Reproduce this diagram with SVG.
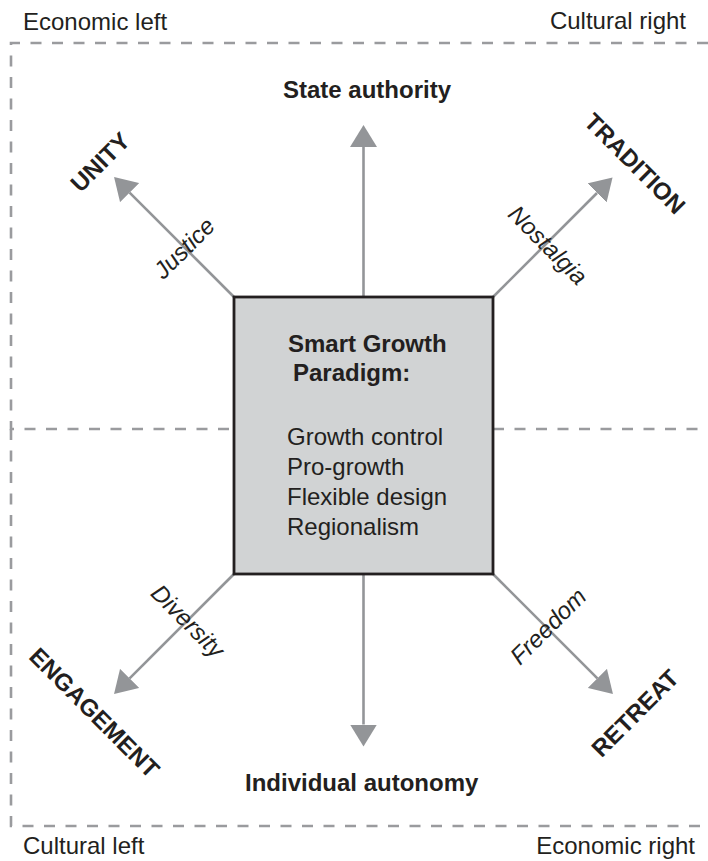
<svg xmlns="http://www.w3.org/2000/svg" width="708" height="861" viewBox="0 0 708 861">
  <style>
    .frame { fill: none; stroke: #9a9b9e; stroke-width: 2.6; stroke-dasharray: 11 10.5; }
    .axis { fill: none; stroke: #939598; stroke-width: 2.6; }
    .head { fill: #939598; }
    .box { fill: #d1d3d4; stroke: #231f20; stroke-width: 2.8; }
    text { font-family: "Liberation Sans", Arial, sans-serif; font-size: 24px; fill: #231f20; }
    .b { font-weight: bold; }
    .it { font-style: italic; }
    .mid { text-anchor: middle; }
    .end { text-anchor: end; }
  </style>
  <defs>
    <marker id="arrow" markerUnits="userSpaceOnUse" viewBox="0 0 22 27" refX="0" refY="13.5" markerWidth="22" markerHeight="27" orient="auto">
      <path class="head" d="M0,0 L22,13.5 L0,27 Z"/>
    </marker>
  </defs>

  <rect width="708" height="861" fill="#ffffff"/>

  <!-- dashed quadrant frame -->
  <g id="frame">
    <path class="frame" d="M708,43 H11 V429 H234"/>
    <path class="frame" d="M11,429 V826 H708"/>
    <path class="frame" d="M493,429 H708"/>
  </g>

  <!-- corner captions -->
  <g id="captions">
    <text x="23" y="30">Economic left</text>
    <text class="end" x="686" y="29">Cultural right</text>
    <text x="23" y="854">Cultural left</text>
    <text class="end" x="695" y="854">Economic right</text>
  </g>

  <!-- connectors radiating from the central box -->
  <g id="connectors">
    <line class="axis" x1="363.5" y1="297" x2="363.5" y2="147" marker-end="url(#arrow)"/>
    <line class="axis" x1="363.5" y1="574" x2="363.5" y2="724.5" marker-end="url(#arrow)"/>
    <line class="axis" x1="234" y1="297" x2="129.6" y2="192.6" marker-end="url(#arrow)"/>
    <line class="axis" x1="493" y1="297" x2="597" y2="193" marker-end="url(#arrow)"/>
    <line class="axis" x1="234" y1="574" x2="129.6" y2="678.4" marker-end="url(#arrow)"/>
    <line class="axis" x1="493" y1="574" x2="597.4" y2="678.4" marker-end="url(#arrow)"/>
  </g>

  <!-- connector labels -->
  <g id="edge-labels">
    <text class="it mid" transform="translate(185,249) rotate(-45)" y="7">Justice</text>
    <text class="it mid" transform="translate(547,246) rotate(45)" y="7">Nostalgia</text>
    <text class="it mid" transform="translate(187,622) rotate(45)" y="7">Diversity</text>
    <text class="it mid" transform="translate(549,627) rotate(-45)" y="7">Freedom</text>
  </g>

  <g id="center">
    <rect class="box" x="234" y="297" width="259" height="277"/>
    <text class="b" x="288" y="352">Smart Growth</text>
    <text class="b" x="293" y="381">Paradigm:</text>
    <text x="287" y="445">Growth control</text>
    <text x="287" y="475">Pro-growth</text>
    <text x="287" y="505">Flexible design</text>
    <text x="287" y="535">Regionalism</text>
  </g>

  <g id="state-authority">
    <text class="b" x="283" y="98">State authority</text>
  </g>
  <g id="individual-autonomy">
    <text class="b" x="245" y="791">Individual autonomy</text>
  </g>
  <g id="unity">
    <text class="b mid" transform="translate(100,162) rotate(-45)" y="8.5">UNITY</text>
  </g>
  <g id="tradition">
    <text class="b mid" transform="translate(635,163.5) rotate(45)" y="8.5">TRADITION</text>
  </g>
  <g id="engagement">
    <text class="b mid" transform="translate(94.5,712.5) rotate(45)" y="8.5">ENGAGEMENT</text>
  </g>
  <g id="retreat">
    <text class="b mid" transform="translate(635,713) rotate(-45)" y="8.5">RETREAT</text>
  </g>
</svg>
